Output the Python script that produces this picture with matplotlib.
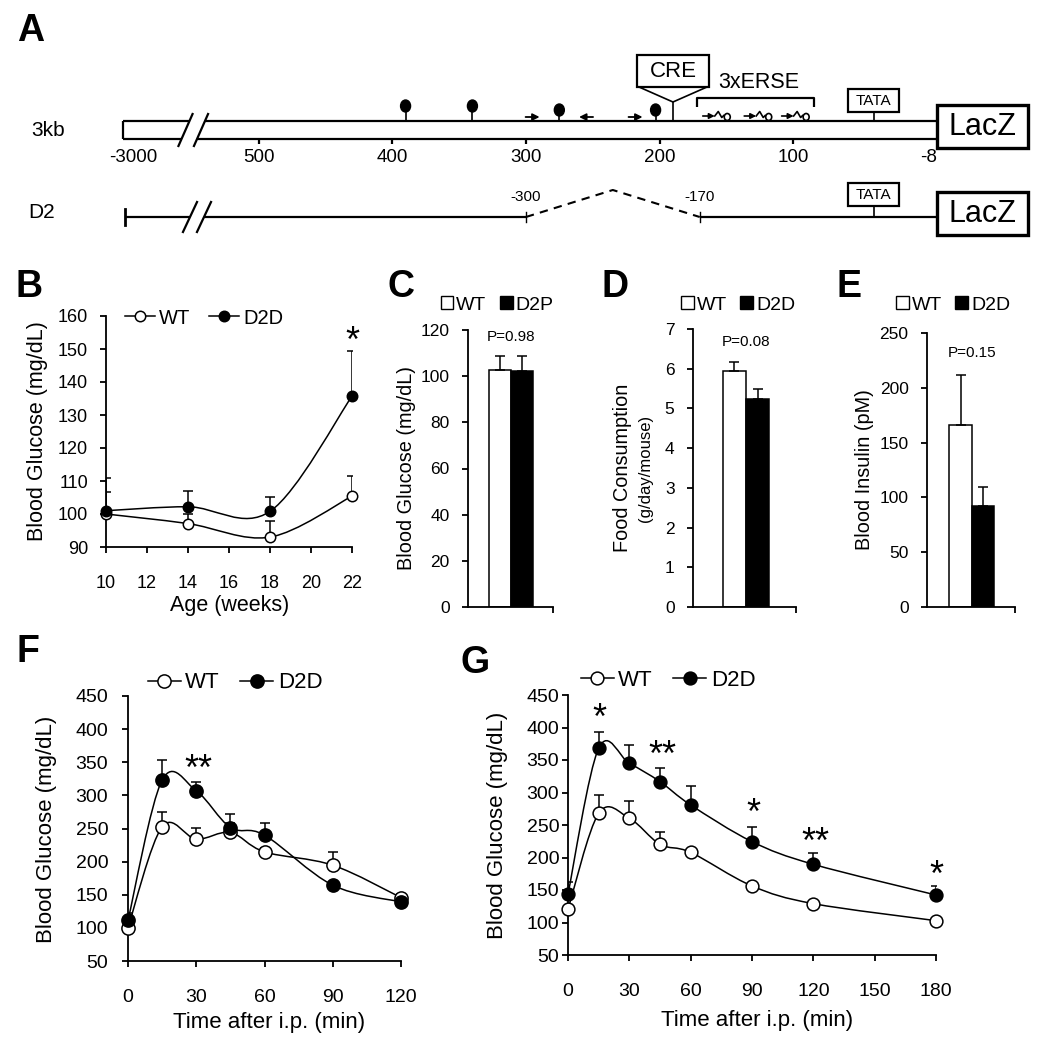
import numpy as np
import matplotlib
matplotlib.use("Agg")
import matplotlib.pyplot as plt
from matplotlib.path import Path
from matplotlib.patches import PathPatch, Rectangle, Ellipse, Patch
from matplotlib.lines import Line2D

plt.rcParams['font.family'] = ['Liberation Sans', 'DejaVu Sans']

# ---- data ----
# B: fasting glucose by age
b_age = [10, 14, 18, 22]
b_wt = [100.0, 97.1, 93.0, 105.4]
b_wt_err = [6.6, 3.0, 4.9, 6.0]
b_d2d = [101.0, 102.2, 100.8, 135.7]
b_d2d_err = [9.9, 4.8, 4.5, 13.8]
b_stars = [(22, 155, '*')]

# C/D/E: bar panels (WT vs mutant)
c_groups = ['WT', 'D2P']
c_vals = [102.6, 102.3]
c_err = [6.0, 6.3]
c_p = 'P=0.98'

d_groups = ['WT', 'D2D']
d_vals = [5.95, 5.24]
d_err = [0.22, 0.25]
d_p = 'P=0.08'

e_groups = ['WT', 'D2D']
e_vals = [165.9, 92.1]
e_err = [45.4, 17.0]
e_p = 'P=0.15'

# F: GTT
f_time = [0, 15, 30, 45, 60, 90, 120]
f_wt = [100.4, 252.5, 233.9, 244.0, 214.7, 194.6, 145.7]
f_wt_err = [8.0, 22.2, 17.6, 14.0, 6.0, 20.4, 6.1]
f_d2d = [111.5, 323.0, 306.9, 251.5, 240.0, 164.4, 139.2]
f_d2d_err = [11.0, 30.3, 12.6, 20.2, 18.6, 5.0, 4.0]
f_stars = [(31, 353, '**')]

# G: GTT
g_time = [0, 15, 30, 45, 60, 90, 120, 180]
g_wt = [120.3, 267.9, 260.3, 220.3, 207.9, 156.2, 129.0, 102.8]
g_wt_err = [6.0, 28.3, 26.7, 18.4, 5.0, 4.0, 4.0, 4.0]
g_d2d = [143.8, 368.0, 344.9, 316.7, 280.8, 224.4, 189.5, 142.3]
g_d2d_err = [18.0, 24.6, 28.1, 21.5, 29.2, 22.0, 16.9, 14.4]
g_stars = [(15.5, 427, '*'), (46, 371, '**'), (90.5, 281, '*'), (121, 237, '**'), (180, 186, '*')]

# A: promoter schematic (positions in bp upstream)
ruler_bp = [594, 500, 400, 300, 200, 100, -1]
ruler_labels = ['-3000', '500', '400', '300', '200', '100', '-8']
lolli_bp = [390, 340, 275, 203]
arrow_bp = [295, 255, 218]
arrow_dir = [1, -1, 1]
cre_bp = 190
erse_bp = [158, 127, 99]
erse_span = (172, 84.5)
tata_bp = 40
del_span = (300, 170)

W, H = 1052, 1050
fig = plt.figure(figsize=(W / 100, H / 100), dpi=100)


def px_axes(x0, y0, x1, y1):
    return fig.add_axes([x0 / W, 1 - y1 / H, (x1 - x0) / W, (y1 - y0) / H])


def ftext(px, py, s, **kw):
    fig.text(px / W, 1 - py / H, s, **kw)


def smooth_path(x, y, t=1 / 6):
    # excel style smoothed line: catmull-rom as cubic bezier
    n = len(x)
    verts = [(x[0], y[0])]
    codes = [Path.MOVETO]
    for i in range(n - 1):
        a = max(i - 1, 0)
        b = min(i + 2, n - 1)
        c1 = (x[i] + (x[i + 1] - x[a]) * t, y[i] + (y[i + 1] - y[a]) * t)
        c2 = (x[i + 1] - (x[b] - x[i]) * t, y[i + 1] - (y[b] - y[i]) * t)
        verts += [c1, c2, (x[i + 1], y[i + 1])]
        codes += [Path.CURVE4] * 3
    return Path(verts, codes)


def style(ax, tsize, ypad, xpad):
    for s in ['top', 'right']:
        ax.spines[s].set_visible(False)
    for s in ['left', 'bottom']:
        ax.spines[s].set_linewidth(1.3)
    ax.tick_params(direction='out', length=4.3, width=1.3, labelsize=tsize)
    ax.tick_params(axis='y', pad=ypad)
    ax.tick_params(axis='x', pad=xpad)


def line_panel(ax, x, wt, wt_err, d2d, d2d_err, ms):
    series = [(wt, wt_err, 'white'), (d2d, d2d_err, 'black')]
    for y, err, fc in series:
        ax.add_patch(PathPatch(smooth_path(x, y), fill=False, lw=1.1, ec='black', zorder=2, clip_on=False))
    for y, err, fc in series:
        ax.errorbar(x, y, yerr=[np.zeros(len(err)), err], fmt='none', ecolor='black',
                    elinewidth=1.1, capsize=3.5, capthick=1.1, zorder=3)
    for y, err, fc in series:
        ax.plot(x, y, ls='none', marker='o', ms=ms, mfc=fc, mec='black', mew=1.1, zorder=4, clip_on=False)


def line_legend(ax, cx, cy, ms, size):
    h = [Line2D([0], [0], color='black', lw=1.1, marker='o', ms=ms, mfc=fc, mec='black', mew=1.1)
         for fc in ['white', 'black']]
    ax.legend(h, ['WT', 'D2D'], ncol=2, frameon=False, loc='center', fontsize=size,
              bbox_to_anchor=(cx / W, 1 - cy / H), bbox_transform=fig.transFigure,
              handlelength=1.5, handletextpad=0.2, columnspacing=0.9, borderpad=0)


def bar_panel(ax, groups, vals, errs, xlim, ylim, yticks, ptxt, py, cx, cy):
    ax.bar([0, 1], vals, width=1, color=['white', 'black'], edgecolor='black', lw=1.1, zorder=2)
    ax.errorbar([0, 1], vals, yerr=[[0, 0], errs], fmt='none', ecolor='black',
                elinewidth=1.1, capsize=3.5, capthick=1.1, zorder=3)
    ax.set_xlim(*xlim)
    ax.set_ylim(*ylim)
    ax.set_yticks(yticks)
    ax.set_xticks([xlim[1]])
    ax.set_xticklabels([])
    style(ax, 12.5, 9, 3)
    ax.text(0.5, py, ptxt, ha='center', va='center', fontsize=11)
    h = [Patch(facecolor=c, edgecolor='black', lw=1.0) for c in ['white', 'black']]
    ax.legend(h, groups, ncol=2, frameon=False, loc='center', fontsize=14,
              bbox_to_anchor=(cx / W, 1 - cy / H), bbox_transform=fig.transFigure,
              handlelength=0.65, handleheight=0.65, handletextpad=0.15, columnspacing=0.7, borderpad=0)


def stars(ax, items):
    for x, y, s in items:
        ax.annotate(s, xy=(x, y), xytext=(0, -7), textcoords='offset points',
                    ha='center', va='center', fontsize=26)


# ---------------- panel A ----------------
PX = 1.337  # px per bp


def bp(px):
    return (927 - px) / PX


axa = fig.add_axes([0, 1 - 250 / H, 1, 250 / H])
axa.set_xlim(bp(0), bp(W))
axa.set_ylim(250, 0)
axa.axis('off')
k = dict(color='black', lw=1.6, solid_capstyle='butt')

# 3kb construct: open bar with break
top, bot = 121, 139
left = bp(123)
lac_l, lac_r = bp(937), bp(1028)
axa.plot([left, left], [top, bot], **k)
axa.plot([left, bp(189.5)], [top, top], **k)
axa.plot([bp(205), lac_l], [top, top], **k)
axa.plot([left, bp(181.5)], [bot, bot], **k)
axa.plot([bp(197), lac_l], [bot, bot], **k)
for s in [185.5, 201]:
    axa.plot([bp(s - 7.5), bp(s + 7.5)], [147, 113], **k)
for p, lab in zip(ruler_bp, ruler_labels):
    if lab not in ('-3000', '-8'):
        axa.plot([p, p], [bot, bot + 5], **k)
    axa.text(p, 158, lab, ha='center', va='center', fontsize=13.5)

# lollipops
for i, p in enumerate(lolli_bp):
    hy = 106 if i < 2 else 110
    axa.plot([p, p], [hy, top], color='black', lw=1.2)
    axa.add_patch(Ellipse((p, hy), 10 / PX, 12, color='black'))
# primer arrows
for p, d in zip(arrow_bp, arrow_dir):
    axa.annotate('', xy=(p - d * 7 / PX, 117), xytext=(p + d * 7 / PX, 117),
                 arrowprops=dict(arrowstyle='-|>', lw=1.3, color='black', mutation_scale=10, shrinkA=0, shrinkB=0))
# CRE
axa.add_patch(Rectangle((bp(709), 55), 72 / PX, 32, fill=False, lw=1.6, ec='black'))
axa.text(bp(673), 71.5, 'CRE', ha='center', va='center', fontsize=16)
axa.plot([bp(639), cre_bp, bp(707)], [87, 102, 87], color='black', lw=1.2)
axa.plot([cre_bp, cre_bp], [102, top], color='black', lw=1.2)
# 3xERSE
axa.plot([erse_span[0], erse_span[0], erse_span[1], erse_span[1]], [107, 98, 98, 107], **k)
axa.text(bp(759), 83, '3xERSE', ha='center', va='center', fontsize=15.5)
for p in erse_bp:
    axa.annotate('', xy=(p + 1 / PX, 116), xytext=(p + 13 / PX, 116),
                 arrowprops=dict(arrowstyle='-|>', lw=1.2, color='black', mutation_scale=8, shrinkA=0, shrinkB=0))
    axa.plot([p + 1 / PX, p - 2.5 / PX, p - 6 / PX, p - 8 / PX], [116, 111.5, 117.5, 115.5], color='black', lw=1.2)
    axa.add_patch(Ellipse((p - 11.5 / PX, 117), 6 / PX, 7, fill=False, ec='black', lw=1.2))


def tata_lacz(y_box, y_line, y_lac):
    axa.add_patch(Rectangle((bp(899), y_box), 51 / PX, 23, fill=False, lw=1.6, ec='black'))
    axa.text(tata_bp, y_box + 12, 'TATA', ha='center', va='center', fontsize=11)
    axa.plot([tata_bp, tata_bp], [y_box + 23, y_line], color='black', lw=1.2)
    axa.add_patch(Rectangle((lac_r, y_lac), lac_l - lac_r, 43, fill=False, lw=2.4, ec='black'))
    axa.text((lac_l + lac_r) / 2, y_lac + 22, 'LacZ', ha='center', va='center', fontsize=22)


tata_lacz(89, top, 105)

# D2 construct
yl = 217
d2_left = bp(125)
axa.plot([d2_left, d2_left], [209, 225], color='black', lw=2)
axa.plot([d2_left, bp(190)], [yl, yl], **k)
axa.plot([bp(204), del_span[0]], [yl, yl], **k)
for s in [190, 204]:
    axa.plot([bp(s - 7.5), bp(s + 7.5)], [233, 201], **k)
axa.plot([del_span[0], (del_span[0] + del_span[1]) / 2, del_span[1]], [yl, 190, yl],
         color='black', lw=1.5, dashes=(4, 3))
axa.plot([del_span[1], lac_l], [yl, yl], **k)
for p in del_span:
    axa.plot([p, p], [212, 222], color='black', lw=1.0)
    axa.text(p, 197, '-%d' % p, ha='center', va='center', fontsize=11)
tata_lacz(183, yl, 192)

ftext(48, 130, '3kb', ha='center', va='center', fontsize=15)
ftext(42, 212, 'D2', ha='center', va='center', fontsize=15)

# ---------------- panel B ----------------
axb = px_axes(106, 316, 352, 547)
line_panel(axb, b_age, b_wt, b_wt_err, b_d2d, b_d2d_err, 7.5)
axb.set_xlim(10, 22)
axb.set_ylim(90, 160)
axb.set_xticks(range(10, 23, 2))
axb.set_yticks(range(90, 161, 10))
style(axb, 13, 8.5, 16)
stars(axb, b_stars)
line_legend(axb, 204, 318, 7.5, 14.5)
ftext(38, 431, 'Blood Glucose (mg/dL)', rotation=90, ha='center', va='center', fontsize=15.5)
ftext(230, 605, 'Age (weeks)', ha='center', va='center', fontsize=15.5)

# ---------------- panels C, D, E ----------------
axc = px_axes(468, 330, 553, 607)
bar_panel(axc, c_groups, c_vals, c_err, (-1.45, 2.41), (0, 120), range(0, 121, 20), c_p, 117, 497, 305)
ftext(407, 468, 'Blood Glucose (mg/dL)', rotation=90, ha='center', va='center', fontsize=14.3)

axd = px_axes(693, 329, 796, 607)
bar_panel(axd, d_groups, d_vals, d_err, (-1.80, 2.67), (0, 7), range(0, 8), d_p, 6.67, 738, 305)
ftext(623, 468, 'Food Consumption', rotation=90, ha='center', va='center', fontsize=14.3)
ftext(645, 468, '(g/day/mouse)', rotation=90, ha='center', va='center', fontsize=12)

axe = px_axes(927, 333, 1015, 607)
bar_panel(axe, e_groups, e_vals, e_err, (-1.49, 2.42), (0, 250), range(0, 251, 50), e_p, 231.8, 953, 305)
ftext(865, 470, 'Blood Insulin (pM)', rotation=90, ha='center', va='center', fontsize=14.3)

# ---------------- panel F ----------------
axf = px_axes(128, 696, 401, 961)
line_panel(axf, f_time, f_wt, f_wt_err, f_d2d, f_d2d_err, 9.5)
axf.set_xlim(0, 120)
axf.set_ylim(50, 450)
axf.set_xticks(range(0, 121, 30))
axf.set_yticks(range(50, 451, 50))
style(axf, 14, 10, 16)
stars(axf, f_stars)
line_legend(axf, 235, 683, 9.5, 16)
ftext(47, 829, 'Blood Glucose (mg/dL)', rotation=90, ha='center', va='center', fontsize=16)
ftext(269, 1028, 'Time after i.p. (min)', ha='center', va='baseline', fontsize=16)

# ---------------- panel G ----------------
axg = px_axes(568, 695, 936, 955)
line_panel(axg, g_time, g_wt, g_wt_err, g_d2d, g_d2d_err, 9.2)
axg.set_xlim(0, 180)
axg.set_ylim(50, 450)
axg.set_xticks(range(0, 181, 30))
axg.set_yticks(range(50, 451, 50))
style(axg, 14, 2, 16)
stars(axg, g_stars)
line_legend(axg, 668, 680, 9.2, 16)
ftext(497, 825, 'Blood Glucose (mg/dL)', rotation=90, ha='center', va='center', fontsize=16)
ftext(757, 1026, 'Time after i.p. (min)', ha='center', va='baseline', fontsize=16)

# panel letters
for lab, x, y in [('A', 31, 31), ('B', 29, 287), ('C', 401, 287), ('D', 615, 287),
                  ('E', 849, 287), ('F', 28, 652), ('G', 475, 663)]:
    ftext(x, y, lab, ha='center', va='center', fontsize=27, fontweight='bold')

fig.savefig('out.png', dpi=100)
